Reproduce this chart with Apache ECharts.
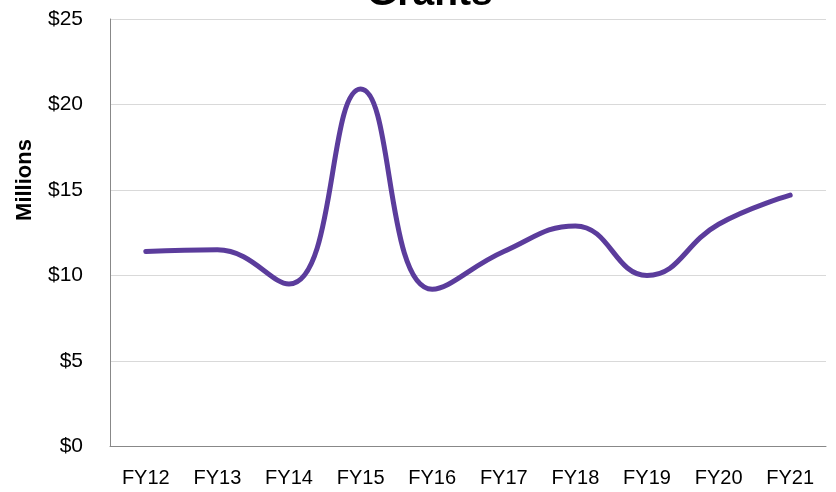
<!DOCTYPE html>
<html>
<head>
<meta charset="utf-8">
<script src="https://cdn.jsdelivr.net/npm/echarts@6/dist/echarts.min.js"></script>
<style>html,body{margin:0;padding:0;background:#fff;}#c{width:836px;height:492px;}</style>
</head>
<body>
<div id="c"></div>
<script>
const categories = ['FY12','FY13','FY14','FY15','FY16','FY17','FY18','FY19','FY20','FY21'];
const grants = [11.4, 11.5, 9.5, 20.9, 9.2, 11.4, 12.9, 10.0, 13.0, 14.7];
const yTicks = [0, 5, 10, 15, 20, 25];

const chart = echarts.init(document.getElementById('c'), null, {renderer: 'canvas'});
chart.setOption({
  animation: false,
  backgroundColor: '#ffffff',
  title: {
    text: 'Grants',
    left: 362,
    top: -30,
    textStyle: {fontFamily: 'Liberation Sans', fontWeight: 'bold', fontSize: 39, color: '#000'}
  },
  graphic: [{
    type: 'text',
    x: 25, y: 180,
    rotation: Math.PI / 2,
    style: {text: 'Millions', font: 'bold 22px "Liberation Sans"', fill: '#000', textAlign: 'center', textVerticalAlign: 'middle'}
  }],
  grid: {left: 110, right: 10, top: 19, bottom: 45.5},
  xAxis: {
    type: 'category',
    data: categories,
    boundaryGap: true,
    axisLine: {lineStyle: {color: '#888888', width: 1}},
    axisTick: {show: false},
    axisLabel: {color: '#000', fontFamily: 'Liberation Sans', fontSize: 20, margin: 22}
  },
  yAxis: {
    type: 'value',
    min: yTicks[0], max: yTicks[yTicks.length - 1], interval: 5,
    axisLine: {show: true, lineStyle: {color: '#888888', width: 1}},
    axisTick: {show: false},
    splitLine: {lineStyle: {color: '#d9d9d9', width: 1}},
    axisLabel: {color: '#000', fontFamily: 'Liberation Sans', fontSize: 21, margin: 27,
      formatter: v => '$' + v}
  },
  series: [{
    type: 'line',
    data: grants,
    smooth: 0.45,
    symbol: 'none',
    lineStyle: {color: '#5b3c9c', width: 5, cap: 'round'}
  }]
});
</script>
</body>
</html>
